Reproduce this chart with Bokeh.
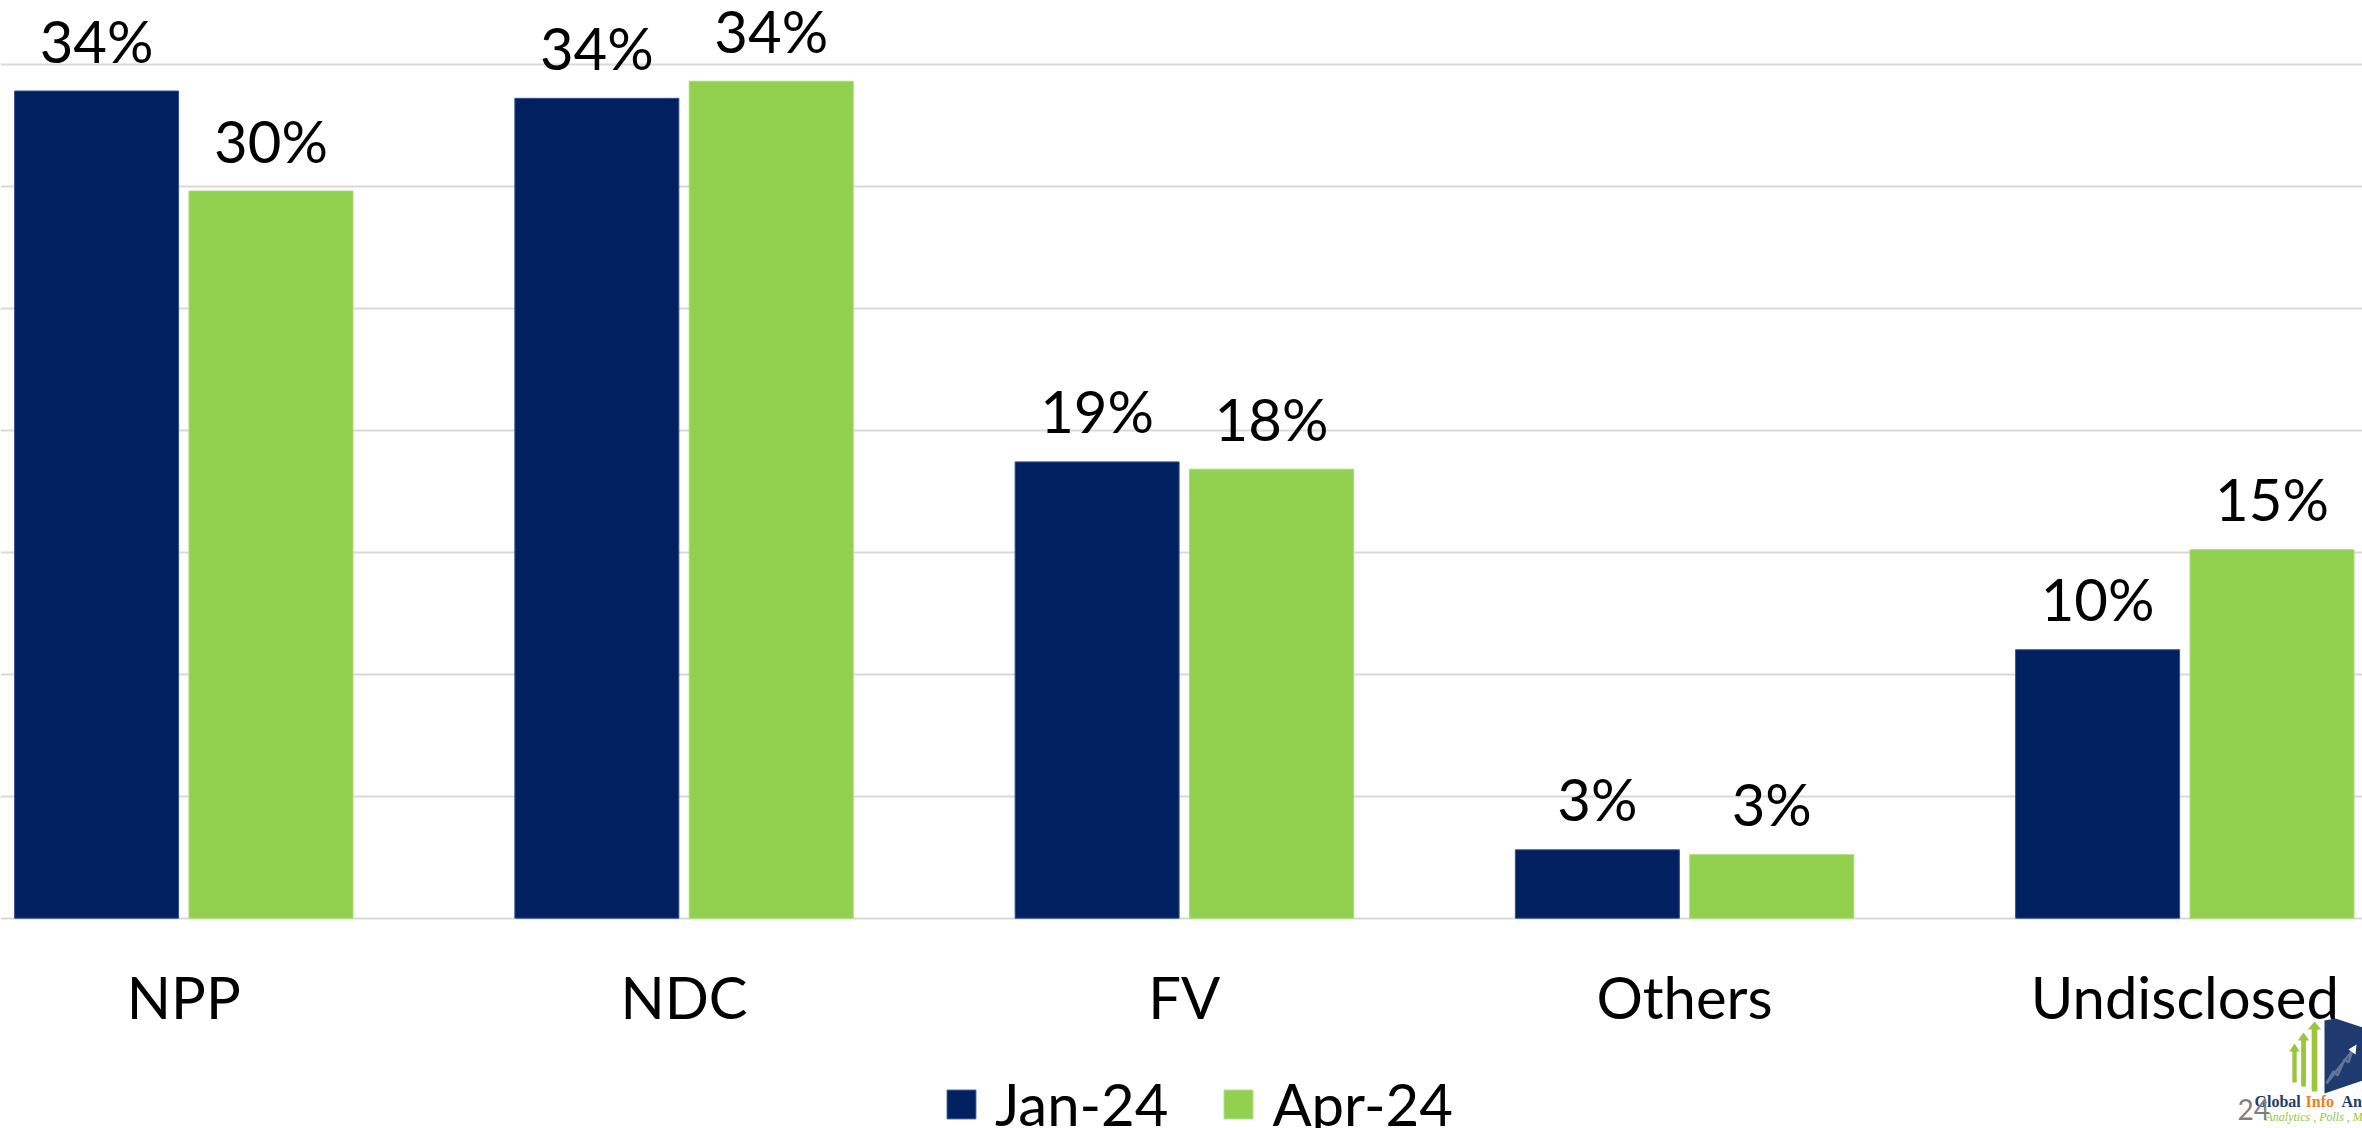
from bokeh.plotting import figure
from bokeh.models import (ColumnDataSource, Range1d, Legend, LegendItem, FixedTicker,
                          Label, PolyAnnotation)
from bokeh.transform import dodge
from bokeh.core.properties import value
from bokeh.embed import file_html
from bokeh.resources import INLINE

# ---- data ----
categories = ["NPP", "NDC", "FV", "Others", "Undisclosed"]
series_names = ["Jan-24", "Apr-24"]
jan_values = [33.9, 33.6, 18.7, 2.8, 11.0]
apr_values = [29.8, 34.3, 18.4, 2.6, 15.1]
jan_labels = ["34%", "34%", "19%", "3%", "10%"]
apr_labels = ["30%", "34%", "18%", "3%", "15%"]
grid_ticks = [0, 5, 10, 15, 20, 25, 30, 35]

NAVY = "#002060"
GREEN = "#92D050"
FONT = "Lato"
FS = "58px"

src = ColumnDataSource(dict(
    x=list(range(len(categories))),
    cat=categories,
    zero=[0] * len(categories),
    jan=jan_values, apr=apr_values,
    jan_lbl=jan_labels, apr_lbl=apr_labels,
))

p = figure(width=2362, height=1128,
           x_range=Range1d(-0.3664, 4.3552), y_range=Range1d(-8.62, 37.61),
           output_backend="svg", toolbar_location=None,
           x_axis_location=None, y_axis_location=None,
           min_border=0, outline_line_color=None,
           background_fill_color="white", border_fill_color="white")

OFF = 0.1743
W = 0.3278
r1 = p.vbar(x=dodge("x", -OFF), top="jan", width=W, source=src,
            fill_color=NAVY, line_color="#2F4F8F", line_width=1)
r2 = p.vbar(x=dodge("x", OFF), top="apr", width=W, source=src,
            fill_color=GREEN, line_color="#A9DA74", line_width=1)

for xo, col, lbl in [(-OFF, "jan", "jan_lbl"), (OFF, "apr", "apr_lbl")]:
    p.text(x=dodge("x", xo), y=col, text=lbl, source=src,
           text_align="center", text_baseline="alphabetic", y_offset=-51,
           text_font=value(FONT), text_font_size=FS, text_color="black")

# category labels under the baseline
p.text(x="x", y="zero", text="cat", source=src,
       text_align="center", text_baseline="alphabetic", y_offset=78,
       text_font=value(FONT), text_font_size=FS, text_color="black")

p.xgrid.visible = False
p.ygrid.ticker = FixedTicker(ticks=grid_ticks)
p.ygrid.grid_line_color = "#D9D9D9"
p.ygrid.grid_line_width = 2

legend = Legend(items=[LegendItem(label=series_names[0], renderers=[r1]),
                       LegendItem(label=series_names[1], renderers=[r2])],
                orientation="horizontal", location=(943, -10),
                glyph_width=36, glyph_height=36, label_standoff=16, spacing=52,
                padding=0, margin=0, border_line_color=None,
                background_fill_alpha=0,
                label_text_font=FONT, label_text_font_size=FS,
                label_text_color="black")
p.add_layout(legend, "center")

# ---- decorative logo (bottom-right of slide) ----
def dx(px):
    return (px - 183.3) / 500.25

def dy(py):
    return (917.7 - py) / 24.4

LOGO_NAVY = "#1F3A6E"
LOGO_GREEN = "#9BC53D"

p.add_layout(PolyAnnotation(
    xs=[dx(2324), dx(2335), dx(2362), dx(2362), dx(2324)],
    ys=[dy(1020), dy(1018), dy(1027), dy(1080), dy(1093)],
    fill_color=LOGO_NAVY, fill_alpha=1, line_color=None))
p.add_layout(PolyAnnotation(
    xs=[dx(2326), dx(2333), dx(2337), dx(2344), dx(2348), dx(2352)],
    ys=[dy(1083), dy(1071), dy(1075), dy(1059), dy(1062), dy(1050)],
    fill_alpha=0, line_color="white", line_width=2.5))
p.add_layout(PolyAnnotation(
    xs=[dx(2348), dx(2356), dx(2355)],
    ys=[dy(1049), dy(1044), dy(1054)],
    fill_color="white", fill_alpha=1, line_color=None))
for cx, top_px, bot_px, hw in [(2294, 1043, 1082, 2.2), (2303, 1032, 1086, 2.4),
                                (2314, 1021, 1091, 2.8)]:
    p.add_layout(PolyAnnotation(
        xs=[dx(cx - hw), dx(cx - hw), dx(cx - 2.4 * hw), dx(cx),
            dx(cx + 2.4 * hw), dx(cx + hw), dx(cx + hw)],
        ys=[dy(bot_px), dy(top_px + 8), dy(top_px + 8), dy(top_px),
            dy(top_px + 8), dy(top_px + 8), dy(bot_px)],
        fill_color=LOGO_GREEN, fill_alpha=1, line_color=None))

p.add_layout(Label(x=dx(2254), y=dy(1110), text="Global", text_font="Liberation Serif",
                   text_font_size="16px", text_font_style="bold", text_color=LOGO_NAVY))
p.add_layout(Label(x=dx(2305), y=dy(1110), text="Info", text_font="Liberation Serif",
                   text_font_size="16px", text_font_style="bold", text_color="#F07D1E"))
p.add_layout(Label(x=dx(2341), y=dy(1110), text="An", text_font="Liberation Serif",
                   text_font_size="16px", text_font_style="bold", text_color=LOGO_NAVY))
p.add_layout(Label(x=dx(2265), y=dy(1124), text="Analytics , Polls , Mod",
                   text_font="Liberation Serif", text_font_size="12px",
                   text_font_style="italic", text_color=LOGO_GREEN))
p.add_layout(Label(x=dx(2237), y=dy(1120), text="24", text_font=FONT,
                   text_font_size="28px", text_color="#7F7F7F"))

open("out.html", "w").write(file_html(p, INLINE))
